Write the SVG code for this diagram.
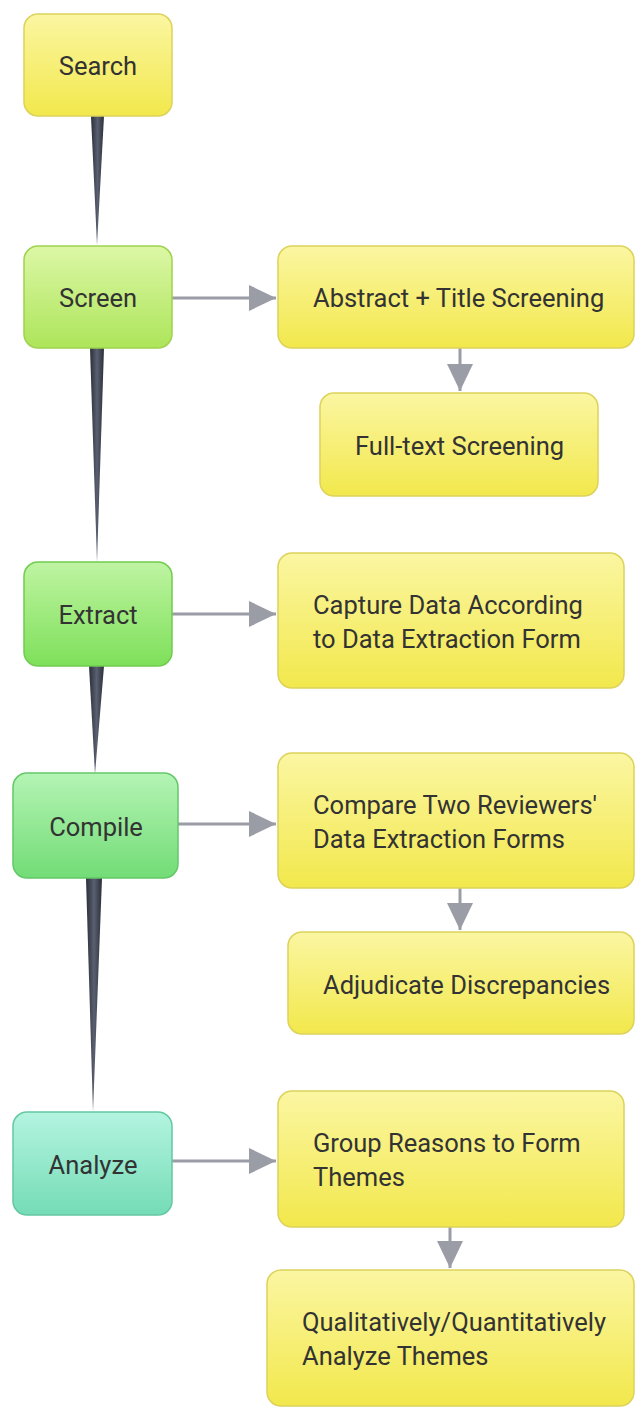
<svg xmlns="http://www.w3.org/2000/svg" width="636" height="1407" viewBox="0 0 636 1407">
<defs>
<linearGradient id="gy" x1="0" y1="0" x2="0" y2="1"><stop offset="0" stop-color="#fbf6a2"/><stop offset="1" stop-color="#f2e84c"/></linearGradient>
<linearGradient id="gs" x1="0" y1="0" x2="0" y2="1"><stop offset="0" stop-color="#dcf7a6"/><stop offset="1" stop-color="#ade55a"/></linearGradient>
<linearGradient id="ge" x1="0" y1="0" x2="0" y2="1"><stop offset="0" stop-color="#bff4a2"/><stop offset="1" stop-color="#7ee05a"/></linearGradient>
<linearGradient id="gc" x1="0" y1="0" x2="0" y2="1"><stop offset="0" stop-color="#b4f4b4"/><stop offset="1" stop-color="#72dc76"/></linearGradient>
<linearGradient id="ga" x1="0" y1="0" x2="0" y2="1"><stop offset="0" stop-color="#b4f4e0"/><stop offset="1" stop-color="#74dcb6"/></linearGradient>
<linearGradient id="gt" x1="0" y1="0" x2="1" y2="0"><stop offset="0" stop-color="#2a2e38"/><stop offset="0.5" stop-color="#5a6070"/><stop offset="1" stop-color="#2a2e38"/></linearGradient>
<marker id="ah" markerWidth="28" markerHeight="28" viewBox="0 0 28 28" refX="27" refY="14" orient="auto" markerUnits="userSpaceOnUse"><path d="M0,1 L27,14 L0,27 Z" fill="#9a9ca6"/></marker>
</defs>
<style>
.t{font-family:Roboto,"Liberation Sans",sans-serif;font-size:25.5px;fill:#333;}
.c{text-anchor:middle;}
.y{fill:url(#gy);stroke:#ddd25c;stroke-width:1.5;}
.ln{stroke:#9a9ca6;stroke-width:3;fill:none;}
</style>
<rect width="636" height="1407" fill="#ffffff"/>
<g id="connectors">
<polygon points="91,116 104,116 97,245" fill="url(#gt)"/>
<polygon points="90,348 104,348 97,562" fill="url(#gt)"/>
<polygon points="89,666 104,666 95,774" fill="url(#gt)"/>
<polygon points="86,878 102,878 93,1112" fill="url(#gt)"/>
<line class="ln" x1="172" y1="298" x2="276" y2="298" marker-end="url(#ah)"/>
<line class="ln" x1="460" y1="348" x2="460" y2="391" marker-end="url(#ah)"/>
<line class="ln" x1="172" y1="614" x2="276" y2="614" marker-end="url(#ah)"/>
<line class="ln" x1="178" y1="824" x2="276" y2="824" marker-end="url(#ah)"/>
<line class="ln" x1="460" y1="888" x2="460" y2="930" marker-end="url(#ah)"/>
<line class="ln" x1="172" y1="1161" x2="276" y2="1161" marker-end="url(#ah)"/>
<line class="ln" x1="450" y1="1227" x2="450" y2="1268" marker-end="url(#ah)"/>
</g>
<g id="search"><rect x="24" y="14" width="148" height="102" rx="14" class="y"/><text class="t c" x="98" y="75">Search</text></g>
<g id="screen"><rect x="24" y="246" width="148" height="102" rx="14" fill="url(#gs)" stroke="#9fd24e" stroke-width="1.5"/><text class="t c" x="98" y="307">Screen</text></g>
<g id="abstract"><rect x="278" y="246" width="356" height="102" rx="14" class="y"/><text class="t" x="313" y="307">Abstract + Title Screening</text></g>
<g id="fulltext"><rect x="320" y="393" width="278" height="103" rx="14" class="y"/><text class="t" x="355" y="455">Full-text Screening</text></g>
<g id="extract"><rect x="24" y="562" width="148" height="104" rx="14" fill="url(#ge)" stroke="#70cc50" stroke-width="1.5"/><text class="t c" x="98" y="624">Extract</text></g>
<g id="capture"><rect x="278" y="553" width="346" height="135" rx="14" class="y"/><text class="t" x="313" y="614">Capture Data According</text><text class="t" x="313" y="648">to Data Extraction Form</text></g>
<g id="compile"><rect x="13" y="773" width="165" height="105" rx="14" fill="url(#gc)" stroke="#64c868" stroke-width="1.5"/><text class="t c" x="96" y="836">Compile</text></g>
<g id="compare"><rect x="278" y="753" width="356" height="135" rx="14" class="y"/><text class="t" x="313" y="814">Compare Two Reviewers'</text><text class="t" x="313" y="848">Data Extraction Forms</text></g>
<g id="adjudicate"><rect x="288" y="932" width="346" height="102" rx="14" class="y"/><text class="t" x="323" y="994">Adjudicate Discrepancies</text></g>
<g id="analyze"><rect x="13" y="1112" width="159" height="103" rx="14" fill="url(#ga)" stroke="#64c8a2" stroke-width="1.5"/><text class="t c" x="93" y="1174">Analyze</text></g>
<g id="group"><rect x="278" y="1091" width="346" height="136" rx="14" class="y"/><text class="t" x="313" y="1152">Group Reasons to Form</text><text class="t" x="313" y="1186">Themes</text></g>
<g id="quant"><rect x="267" y="1270" width="367" height="136" rx="14" class="y"/><text class="t" x="302" y="1331">Qualitatively/Quantitatively</text><text class="t" x="302" y="1365">Analyze Themes</text></g>
</svg>
